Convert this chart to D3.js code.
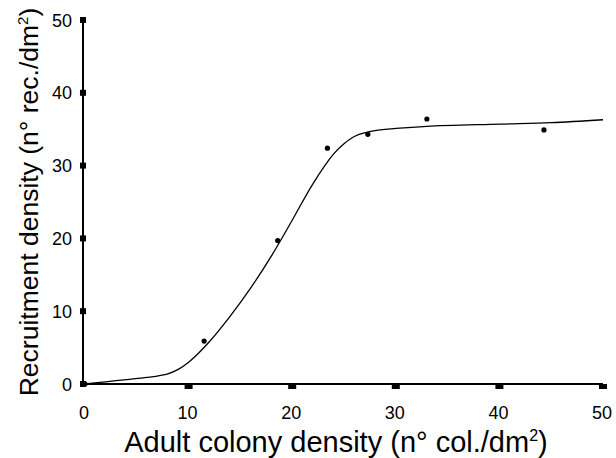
<!DOCTYPE html>
<html><head><meta charset="utf-8">
<script src="https://cdn.jsdelivr.net/npm/d3@7"></script>
<style>body{margin:0;background:#fff}</style>
</head><body>
<svg id="c" width="616" height="458"></svg>
<script>
const pointsX = [0, 11.5, 18.6, 23.4, 27.3, 33.0, 44.3];
const pointsY = [0, 5.9, 19.7, 32.4, 34.3, 36.4, 34.9];
const curveX = [0, 2, 4, 6, 8, 9, 10, 11, 12, 14, 16, 18, 20, 22, 24, 25, 26, 27, 28, 30, 33, 40, 45, 50];
const curveY = [0, 0.3, 0.6, 0.9, 1.4, 2.0, 3.0, 4.3, 5.8, 9.3, 13.2, 17.6, 22.5, 27.5, 31.6, 33.0, 34.0, 34.5, 34.8, 35.1, 35.4, 35.7, 35.9, 36.3];
const xTicks = [0, 10, 20, 30, 40, 50];
const yTicks = [0, 10, 20, 30, 40, 50];

const svg = d3.select("#c");
const x = d3.scaleLinear().domain([0, 50]).range([85, 603]);
const y = d3.scaleLinear().domain([0, 50]).range([384, 20]);
const font = "'Liberation Sans', Arial, sans-serif";

// axes lines
svg.append("line").attr("x1", 83).attr("x2", 83).attr("y1", y(50)).attr("y2", y(0))
  .attr("stroke", "#000").attr("stroke-width", 2);
svg.append("line").attr("x1", x(0)).attr("x2", x(50)).attr("y1", 384).attr("y2", 384)
  .attr("stroke", "#000").attr("stroke-width", 2);

// y ticks
svg.selectAll(".yt").data(yTicks).enter().append("rect")
  .attr("x", 80).attr("y", d => y(d) - 3).attr("width", 6).attr("height", 6).attr("fill", "#000");
svg.selectAll(".yl").data(yTicks).enter().append("text")
  .attr("x", 72).attr("y", d => y(d) + 6.5).attr("text-anchor", "end")
  .attr("font-family", font).attr("font-size", 18).text(d => d);

// x ticks
svg.selectAll(".xt").data(xTicks.filter(d => d > 0)).enter().append("rect")
  .attr("x", d => x(d) - 4).attr("y", 384).attr("width", 8).attr("height", 5).attr("fill", "#000");
svg.selectAll(".xl").data(xTicks).enter().append("text")
  .attr("x", d => x(d) - 1).attr("y", 419).attr("text-anchor", "middle")
  .attr("font-family", font).attr("font-size", 18).text(d => d);

// curve
const line = d3.line().x((d, i) => x(curveX[i])).y((d, i) => y(curveY[i])).curve(d3.curveCatmullRom);
svg.append("path").attr("d", line(curveX)).attr("fill", "none").attr("stroke", "#000").attr("stroke-width", 1.3);

// points
svg.selectAll(".pt").data(pointsX).enter().append("circle")
  .attr("cx", (d, i) => x(d)).attr("cy", (d, i) => y(pointsY[i])).attr("r", 2.6).attr("fill", "#000");

// axis titles
const xt = svg.append("text").attr("x", 336).attr("y", 452).attr("text-anchor", "middle")
  .attr("font-family", font).attr("font-size", 29);
xt.append("tspan").text("Adult colony density (n° col./dm");
xt.append("tspan").attr("font-size", 16).attr("dy", -11).text("2");
xt.append("tspan").attr("dy", 11).text(")");

const yt = svg.append("text").attr("transform", "translate(38,202) rotate(-90)").attr("text-anchor", "middle")
  .attr("font-family", font).attr("font-size", 26.5);
yt.append("tspan").text("Recruitment density (n° rec./dm");
yt.append("tspan").attr("font-size", 15).attr("dy", -10).text("2");
yt.append("tspan").attr("dy", 10).text(")");
</script>
</body></html>
